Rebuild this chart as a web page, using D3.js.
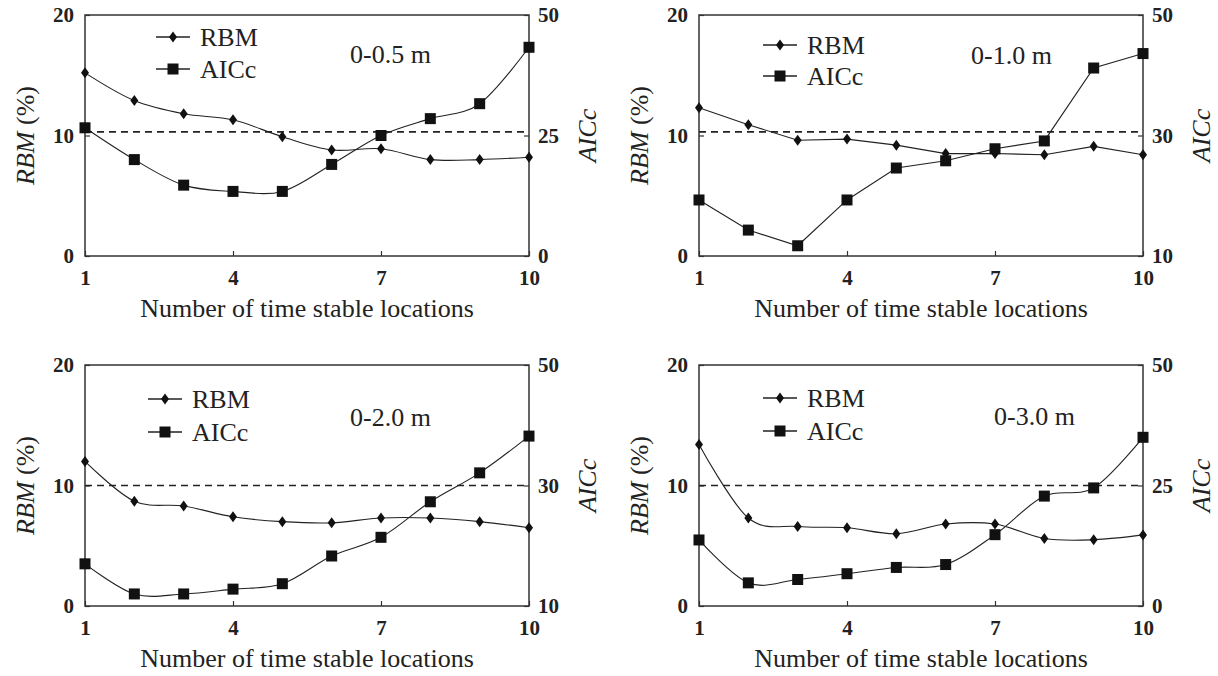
<!DOCTYPE html>
<html>
<head>
<meta charset="utf-8">
<script src="https://cdn.jsdelivr.net/npm/d3@7"></script>
<style>
  body { margin: 0; background: #fff; }
  svg { display: block; }
</style>
</head>
<body>
<div id="chart"></div>
<script>
// ---- data ----
const locations = [1, 2, 3, 4, 5, 6, 7, 8, 9, 10];
const xTicks = [1, 4, 7, 10];
const rbmTicks = [0, 10, 20];
const depthLabels = ["0-0.5 m", "0-1.0 m", "0-2.0 m", "0-3.0 m"];

const rbm05 = [15.2, 12.9, 11.8, 11.3, 9.9, 8.8, 8.9, 8.0, 8.0, 8.2];
const aicc05 = [26.6, 20.0, 14.7, 13.4, 13.4, 19.0, 25.0, 28.5, 31.6, 43.3];
const rbm10 = [12.3, 10.9, 9.6, 9.7, 9.2, 8.5, 8.5, 8.4, 9.1, 8.4];
const aicc10 = [19.3, 14.3, 11.7, 19.3, 24.6, 25.8, 27.8, 29.1, 41.2, 43.6];
const rbm20 = [12.0, 8.7, 8.3, 7.4, 7.0, 6.9, 7.3, 7.3, 7.0, 6.5];
const aicc20 = [17.0, 12.0, 12.0, 12.8, 13.7, 18.3, 21.4, 27.3, 32.1, 38.2];
const rbm30 = [13.4, 7.3, 6.6, 6.5, 6.0, 6.8, 6.8, 5.6, 5.5, 5.9];
const aicc30 = [13.7, 4.8, 5.5, 6.7, 8.0, 8.6, 14.8, 22.8, 24.5, 35.0];

const aiccDomains = [[0, 50], [10, 50], [10, 50], [0, 50]];
const aiccTicks = [[0, 25, 50], [10, 30, 50], [10, 30, 50], [0, 25, 50]];
const rbmThreshold = [10.3, 10.3, 10, 10];

const rbmSeries = [rbm05, rbm10, rbm20, rbm30];
const aiccSeries = [aicc05, aicc10, aicc20, aicc30];

// ---- layout ----
const W = 1218, H = 676;
const pw = 444, ph = 241;
const panels = [
  { x: 85,  y: 15,  smooth: true,  lx: 71, ty1: 22, ty2: 54, tx: 265, tty: 39 },
  { x: 699, y: 15,  smooth: false, lx: 64, ty1: 30, ty2: 61, tx: 272, tty: 40 },
  { x: 85,  y: 365, smooth: true,  lx: 63, ty1: 34, ty2: 67, tx: 265, tty: 52 },
  { x: 699, y: 365, smooth: true,  lx: 64, ty1: 33, ty2: 66, tx: 295, tty: 51 }
];

const serif = "'Liberation Serif', 'Times New Roman', serif";

const svg = d3.select("#chart").append("svg")
  .attr("width", W)
  .attr("height", H)
  .style("font-family", serif);

const diamond = "M0,-5.5L4,0L0,5.5L-4,0Z";

function drawMarker(g, type, cx, cy) {
  if (type === "diamond") {
    g.append("path")
      .attr("d", diamond)
      .attr("transform", "translate(" + cx + "," + cy + ")")
      .attr("fill", "#111");
  } else {
    g.append("rect")
      .attr("x", cx - 5.5).attr("y", cy - 5.5)
      .attr("width", 11).attr("height", 11)
      .attr("fill", "#111");
  }
}

panels.forEach(function (p, i) {
  let g = svg.append("g").attr("transform", "translate(" + p.x + "," + p.y + ")");

  let x = d3.scaleLinear().domain([1, 10]).range([0, pw]);
  let yL = d3.scaleLinear().domain([0, 20]).range([ph, 0]);
  let yR = d3.scaleLinear().domain(aiccDomains[i]).range([ph, 0]);

  let curve = p.smooth ? d3.curveCatmullRom.alpha(0) : d3.curveLinear;

  // frame
  g.append("rect")
    .attr("width", pw).attr("height", ph)
    .attr("fill", "none")
    .attr("stroke", "#333")
    .attr("stroke-width", 1.5);

  // axes (inward ticks, no domain line)
  let ax = g.append("g").attr("class", "axis")
    .attr("transform", "translate(0," + ph + ")")
    .call(d3.axisBottom(x).tickValues(xTicks).tickSizeInner(-5).tickSizeOuter(0).tickPadding(10));
  g.append("g").attr("class", "axis")
    .call(d3.axisLeft(yL).tickValues(rbmTicks).tickSizeInner(-5).tickSizeOuter(0).tickPadding(11));
  g.append("g").attr("class", "axis")
    .attr("transform", "translate(" + pw + ",0)")
    .call(d3.axisRight(yR).tickValues(aiccTicks[i]).tickSizeInner(-5).tickSizeOuter(0).tickPadding(9));

  g.selectAll(".axis path.domain").remove();
  g.selectAll(".axis line").attr("stroke", "#333").attr("stroke-width", 1.2);
  g.selectAll(".axis text")
    .attr("fill", "#222")
    .style("font-family", serif)
    .style("font-size", "21px")
    .style("font-weight", "bold");
  ax.selectAll("text").attr("dy", "0.9em");

  // threshold
  g.append("line")
    .attr("x1", 0).attr("x2", pw)
    .attr("y1", yL(rbmThreshold[i])).attr("y2", yL(rbmThreshold[i]))
    .attr("stroke", "#222")
    .attr("stroke-width", 1.6)
    .attr("stroke-dasharray", "7,5");

  let rbmData = locations.map(function (d, k) { return [d, rbmSeries[i][k]]; });
  let aiccData = locations.map(function (d, k) { return [d, aiccSeries[i][k]]; });

  g.append("path")
    .datum(rbmData)
    .attr("fill", "none").attr("stroke", "#222").attr("stroke-width", 1.1)
    .attr("d", d3.line().curve(curve).x(function (d) { return x(d[0]); }).y(function (d) { return yL(d[1]); }));

  g.append("path")
    .datum(aiccData)
    .attr("fill", "none").attr("stroke", "#222").attr("stroke-width", 1.1)
    .attr("d", d3.line().curve(curve).x(function (d) { return x(d[0]); }).y(function (d) { return yR(d[1]); }));

  rbmData.forEach(function (d) { drawMarker(g, "diamond", x(d[0]), yL(d[1])); });
  aiccData.forEach(function (d) { drawMarker(g, "square", x(d[0]), yR(d[1])); });

  // legend
  [["RBM", "diamond", p.ty1], ["AICc", "square", p.ty2]].forEach(function (l) {
    g.append("line")
      .attr("x1", p.lx).attr("x2", p.lx + 34)
      .attr("y1", l[2]).attr("y2", l[2])
      .attr("stroke", "#222").attr("stroke-width", 1.3);
    drawMarker(g, l[1], p.lx + 17, l[2]);
    g.append("text")
      .attr("x", p.lx + 44).attr("y", l[2])
      .attr("dy", "0.35em")
      .style("font-size", "26px")
      .attr("fill", "#222")
      .text(l[0]);
  });

  g.append("text")
    .attr("x", p.tx).attr("y", p.tty)
    .attr("dy", "0.35em")
    .style("font-size", "26px")
    .attr("fill", "#222")
    .text(depthLabels[i]);

  // axis titles
  let yl = g.append("text")
    .attr("transform", "translate(-60," + (ph / 2) + ") rotate(-90)")
    .attr("text-anchor", "middle")
    .attr("dy", "0.35em")
    .style("font-size", "26px")
    .attr("fill", "#222");
  yl.append("tspan").style("font-style", "italic").text("RBM");
  yl.append("tspan").text(" (%)");

  g.append("text")
    .attr("transform", "translate(" + (pw + 58) + "," + (ph / 2) + ") rotate(-90)")
    .attr("text-anchor", "middle")
    .attr("dy", "0.35em")
    .style("font-size", "26px")
    .style("font-style", "italic")
    .attr("fill", "#222")
    .text("AICc");

  g.append("text")
    .attr("x", pw / 2).attr("y", ph + 61)
    .attr("text-anchor", "middle")
    .style("font-size", "26px")
    .attr("fill", "#222")
    .text("Number of time stable locations");
});
</script>
</body>
</html>
